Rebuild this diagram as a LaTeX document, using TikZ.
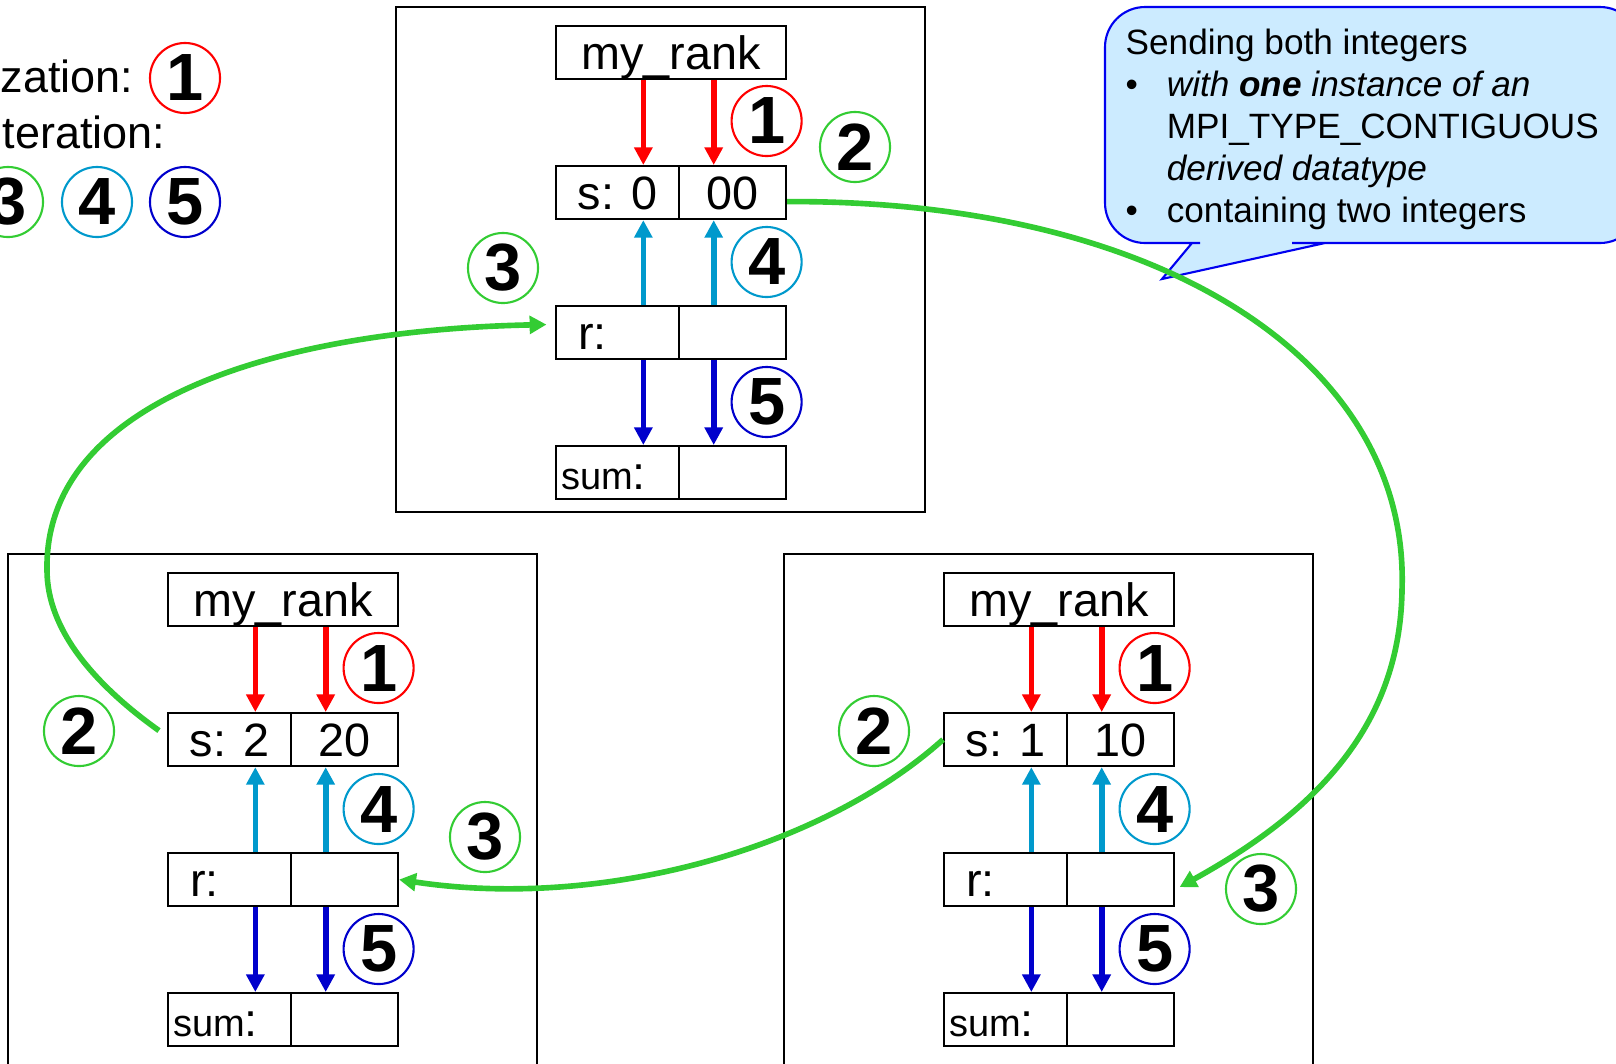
\documentclass[tikz,border=0pt]{standalone}
\usepackage{fontspec}
\setmainfont{Liberation Sans}
\usetikzlibrary{arrows.meta}

\definecolor{mpired}{HTML}{FF0000}
\definecolor{mpigreen}{HTML}{33CC33}
\definecolor{mpicyan}{HTML}{0099CC}
\definecolor{mpiblue}{HTML}{0000CC}
\definecolor{notefill}{HTML}{CCEBFF}
\definecolor{noteline}{HTML}{0000F0}

\tikzset{
  cell/.style={draw, line width=0.6pt, anchor=north west, inner sep=0pt,
    minimum height=0.53cm, text height=0.33cm, text depth=0cm,
    font=\fontsize{13.3}{15}\selectfont},
  num/.style={circle, draw=#1, line width=0.6pt, minimum size=0.70cm,
    inner sep=0pt, font=\fontsize{19}{20}\selectfont\bfseries},
  flow/.style={line width=1.6pt, draw=#1, -{Triangle[width=5pt,length=5pt]}},
  send/.style={line width=1.6pt, draw=mpigreen, -{Triangle[width=5pt,length=4.8pt]}},
  frame/.style={draw, line width=0.6pt},
  legend/.style={anchor=base west, inner sep=0pt, font=\fontsize{12.8}{14}\selectfont},
}

% One process: its memory cells, the copy arrows and the step numbers.
% #1 prefix, #2 x, #3 y of the my_rank cell (px), #4 cell width (px),
% #5 #6 contents of s, #7 lower edge of the frame
\newcommand\memframe[7]{%
  \pgfmathsetmacro\mfL{0.536*#4}%
  \pgfmathsetmacro\mfR{#4-\mfL}%
  \pgfmathsetmacro\mfXs{#2+\mfL}%
  \pgfmathsetmacro\mfTr{(\mfL-44)*0.01}%
  \pgfmathsetmacro\mfTs{(\mfL-10)*0.01}%
  \pgfmathsetmacro\mfca{#2+0.384*#4}%
  \pgfmathsetmacro\mfcb{#2+0.69*#4}%
  \pgfmathsetmacro\mfcc{#2+0.92*#4}%
  \pgfmathsetmacro\mffl{#2-0.693*#4}%
  \pgfmathsetmacro\mffr{#2+1.61*#4}%
  \draw[frame] (\mffl,#3-18) rectangle (\mffr,#7);
  \node[cell, minimum width=#4*0.01cm] (#1-rank) at (#2,#3) {my\_rank};
  \node[cell, minimum width=\mfL*0.01cm] (#1-sL) at (#2,#3+140) {s: #5};
  \node[cell, minimum width=\mfR*0.01cm] (#1-sR) at (\mfXs,#3+140) {#6};
  \node[cell, minimum width=\mfL*0.01cm, inner xsep=0.22cm, text width=\mfTr cm, align=left]
    (#1-rL) at (#2,#3+280) {r:};
  \node[cell, minimum width=\mfR*0.01cm] (#1-rR) at (\mfXs,#3+280) {};
  \node[cell, minimum width=\mfL*0.01cm, inner xsep=0.05cm, text width=\mfTs cm, align=left]
    (#1-sumL) at (#2,#3+420) {{\fontsize{10.8}{12}\selectfont sum}:};
  \node[cell, minimum width=\mfR*0.01cm] (#1-sumR) at (\mfXs,#3+420) {};
  \coordinate (#1-ca) at (\mfca,#3);
  \coordinate (#1-cb) at (\mfcb,#3);
  \draw[flow=mpired] (#1-rank.south -| #1-ca) -- (#1-sL.north -| #1-ca);
  \draw[flow=mpired] (#1-rank.south -| #1-cb) -- (#1-sR.north -| #1-cb);
  \draw[flow=mpicyan] (#1-rL.north -| #1-ca) -- (#1-sL.south -| #1-ca);
  \draw[flow=mpicyan] (#1-rR.north -| #1-cb) -- (#1-sR.south -| #1-cb);
  \draw[flow=mpiblue] (#1-rL.south -| #1-ca) -- (#1-sumL.north -| #1-ca);
  \draw[flow=mpiblue] (#1-rR.south -| #1-cb) -- (#1-sumR.north -| #1-cb);
  \node[num=mpired] (#1-n1) at (\mfcc,#3+96) {1};
  \node[num=mpicyan] (#1-n4) at (\mfcc,#3+237) {4};
  \node[num=mpiblue] (#1-n5) at (\mfcc,#3+377) {5};
}

\begin{document}
\begin{tikzpicture}[x=0.01cm, y=-0.01cm]
\useasboundingbox (0,0) rectangle (1616,1063);

% legend
\node[legend] (legA) at (0,92) {zation:};
\node[legend] (legB) at (2,148) {teration:};
\node[num=mpired] (leg1) at (185,78) {1};
\node[num=mpigreen] (leg3) at (8,202) {3};
\node[num=mpicyan] (leg4) at (97,202) {4};
\node[num=mpiblue] (leg5) at (185,202) {5};

% the three processes
\memframe{T}{555}{25}{230}{0}{00}{512}
\memframe{L}{167}{572}{230}{2}{20}{1075}
\memframe{R}{943}{572}{230}{1}{10}{1075}

% send / receive steps
\node[num=mpigreen] (T-n2) at (855,147) {2};
\node[num=mpigreen] (T-n3) at (503,268) {3};
\node[num=mpigreen] (L-n2) at (79,731) {2};
\node[num=mpigreen] (L-n3) at (485,837) {3};
\node[num=mpigreen] (R-n2) at (874,731) {2};
\node[num=mpigreen] (R-n3) at (1261,889) {3};

% speech bubble
\filldraw[fill=notefill, draw=noteline, line width=0.6pt]
  (1105,130) [rounded corners=0.4cm] -- (1105,7) -- (1640,7) -- (1640,243) -- (1332,243)
  [sharp corners] -- (1325,243) -- (1162,279) -- (1192,243) -- (1200,243)
  [rounded corners=0.4cm] -- (1105,243) -- cycle;
\node[anchor=north west, inner sep=0pt, align=left, font=\fontsize{10}{12}\selectfont]
  (note) at (1125,28) {Sending both integers\\
  \makebox[11.7pt][l]{\textbullet}\textit{with \textbf{one} instance of an}\\
  \hspace*{11.7pt}MPI\_TYPE\_CONTIGUOUS\\
  \hspace*{11.7pt}\textit{derived datatype}\\
  \makebox[11.7pt][l]{\textbullet}containing two integers};

% ring of messages
\coordinate (viaR) at (1402,590);
\coordinate (viaL) at (47,570);
\draw[send] ([yshift=-0.09cm]T-sR.east) .. controls (1160,200) and (1410,360) .. (viaR)
  .. controls (1400,730) and (1310,815) .. ([xshift=0.045cm,yshift=-0.075cm]R-rR.east);
\draw[send] (R-sL.west) .. controls (820,850) and (600,910) .. (L-rR.east);
\draw[send] ([xshift=-0.08cm,yshift=0.09cm]L-sL.west) .. controls (95,685) and (47,630) .. (viaL)
  .. controls (44,400) and (280,330) .. ([xshift=-0.085cm,yshift=0.08cm]T-rL.west);
\end{tikzpicture}
\end{document}
